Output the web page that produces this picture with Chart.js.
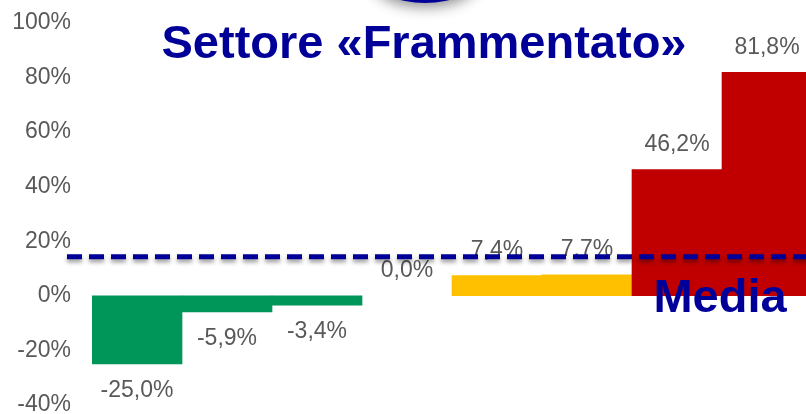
<!DOCTYPE html>
<html>
<head>
<meta charset="utf-8">
<script src="https://cdn.jsdelivr.net/npm/chart.js@4/dist/chart.umd.min.js"></script>
<style>
    html, body { margin: 0; padding: 0; width: 806px; height: 414px; overflow: hidden; background: #fff; }
    #wrap { width: 812px; height: 424px; }
</style>
</head>
<body>
<div id="wrap"><canvas id="chartSettore" width="812" height="424"></canvas></div>
<script>
const categories = ["1", "2", "3", "4", "5", "6", "7", "8"];
const values     = [-25.0, -5.9, -3.4, 0.0, 7.4, 7.7, 46.2, 81.8];
const barColors  = ["#00965A", "#00965A", "#00965A", "rgba(0,0,0,0)", "#FFC000", "#FFC000", "#C00000", "#C00000"];
const yTicks     = [-40, -20, 0, 20, 40, 60, 80, 100];
const mediaValue = 14.3;
const titleText  = "Settore «Frammentato»";
const mediaText  = "Media";

const FONT = "'Liberation Sans', Arial, sans-serif";

const fmt = v => v.toFixed(1).replace(".", ",") + "%";

const overlay = {
    id: "overlay",
    beforeDraw: (chart) => {
        // blue shape peeking in at the top
        const ctx = chart.ctx;
        ctx.save();
        ctx.shadowColor   = "rgba(0,0,0,0.45)";
        ctx.shadowBlur    = 14;
        ctx.shadowOffsetY = 4;
        ctx.fillStyle     = "#000099";
        ctx.beginPath();
        ctx.ellipse(425, -22, 52, 25, 0, 0, Math.PI * 2);
        ctx.fill();
        ctx.restore();
    },
    afterDatasetsDraw: (chart) => {
        const ctx  = chart.ctx;
        const y    = chart.scales.y;
        const bars = chart.getDatasetMeta(0).data;

        // value labels
        ctx.save();
        ctx.font         = "23px " + FONT;
        ctx.fillStyle    = "#595959";
        ctx.textAlign    = "center";
        ctx.textBaseline = "middle";
        bars.forEach((bar, i) => {
            const v = values[i];
            ctx.fillText(fmt(v), bar.x, v >= 0 ? bar.y - 25 : bar.y + 27);
        });
        ctx.restore();

        // media line
        const ly = y.getPixelForValue(mediaValue);
        ctx.save();
        ctx.shadowColor   = "rgba(0,0,0,0.4)";
        ctx.shadowBlur    = 4;
        ctx.shadowOffsetY = 3;
        ctx.strokeStyle   = "#000099";
        ctx.lineWidth     = 5;
        ctx.setLineDash([15, 7]);
        ctx.beginPath();
        ctx.moveTo(67, ly);
        ctx.lineTo(chart.width, ly);
        ctx.stroke();
        ctx.restore();

        // "Media" label
        ctx.save();
        ctx.font         = "bold 47px " + FONT;
        ctx.fillStyle    = "#000099";
        ctx.textAlign    = "center";
        ctx.textBaseline = "alphabetic";
        ctx.fillText(mediaText, (bars[6].x + bars[7].x) / 2 - 2, y.getPixelForValue(0) + 16);
        ctx.restore();
    },
    afterDraw: (chart) => {
        const ctx = chart.ctx;
        ctx.save();
        ctx.font         = "bold 47px " + FONT;
        ctx.fillStyle    = "#000099";
        ctx.textAlign    = "center";
        ctx.textBaseline = "alphabetic";
        ctx.fillText(titleText, 424, 58);
        ctx.restore();
    }
};

new Chart(document.getElementById("chartSettore"), {
    type   : "bar",
    data   : {
        labels  : categories,
        datasets: [{
            data              : values,
            backgroundColor   : barColors,
            borderWidth       : 0,
            barPercentage     : 1,
            categoryPercentage: 1
        }]
    },
    options: {
        responsive      : false,
        animation       : false,
        devicePixelRatio: 1,
        layout          : { padding: { top: 22.7, bottom: 19, left: 0, right: 0 } },
        plugins         : {
            legend : { display: false },
            tooltip: { enabled: false }
        },
        scales          : {
            x: { display: false },
            y: {
                min     : yTicks[0],
                max     : yTicks[yTicks.length - 1],
                grid    : { display: false, drawTicks: false },
                border  : { display: false },
                afterBuildTicks: (s) => { s.ticks = yTicks.map(v => ({ value: v })); },
                afterFit: (s) => {
                    // tick padding would otherwise also be added above and below
                    s.width         = 92;
                    s.paddingTop    = 0;
                    s.paddingBottom = 0;
                },
                ticks   : {
                    padding : 21,
                    color   : "#595959",
                    font    : { size: 23, family: FONT },
                    callback: v => v + "%"
                }
            }
        }
    },
    plugins: [overlay]
});
</script>
</body>
</html>
